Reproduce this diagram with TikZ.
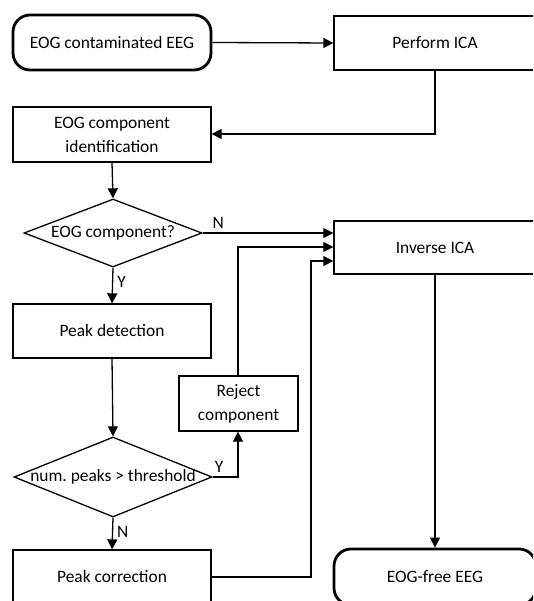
\documentclass[tikz,border=0pt]{standalone}
\usepackage{fontspec}
\setmainfont{Carlito}
\frenchspacing
\usetikzlibrary{shapes.geometric,arrows.meta}
\begin{document}
\begin{tikzpicture}[x=1pt,y=-1pt,
  every node/.style={font=\fontsize{17.4}{24}\selectfont},
  proc/.style={draw,line width=1.3pt,rectangle,minimum width=198pt,inner sep=0pt,align=center},
  term/.style={draw,line width=2.8pt,rectangle,rounded corners=17pt,minimum width=198pt,inner sep=0pt,align=center},
  dec/.style={draw,line width=1.3pt,diamond,inner sep=0pt},
  lab/.style={inner sep=0pt},
  conn/.style={line width=1.3pt,-{Triangle[length=10pt,width=10pt]}}
]
\useasboundingbox (0,0) rectangle (533,601);
\clip (0,0) rectangle (533,601);
\node[term,minimum height=55pt] (start) at (112,42.5) {EOG contaminated EEG};
\node[proc,minimum width=202pt,minimum height=54pt] (ica) at (435,43) {Perform ICA};
\node[proc,minimum height=55pt] (ident) at (112,134.5) {EOG component\\identification};
\node[dec,minimum width=178pt,minimum height=68pt] (d1) at (113,233) {\makebox[0pt]{EOG component?}};
\node[proc,minimum width=202pt,minimum height=53pt] (inv) at (435,247.5) {Inverse ICA};
\node[proc,minimum height=54pt] (peak) at (112,331) {Peak detection};
\node[proc,minimum width=119pt,minimum height=55pt] (rej) at (238.5,403.5) {Reject\\component};
\node[dec,minimum width=198pt,minimum height=80pt] (d2) at (113,477) {\makebox[0pt]{num. peaks > threshold}};
\node[proc,minimum height=54pt] (corr) at (112,577) {Peak correction};
\node[term,minimum width=202pt,minimum height=56pt] (free) at (435,577) {EOG-free EEG};
\coordinate (c1) at (435,134);
\coordinate (c2) at (238,247);
\coordinate (c3) at (311,577);
\coordinate (c4) at (311,261);
\coordinate (c5) at (238,477);
\draw[conn] (start.east) -- (ica.west);
\draw[conn] (ica.south) -- (c1) -- (ident.east |- c1);
\draw[conn] (ident.south) -- (d1.north);
\draw[conn] (d1.east) -- (inv.west |- d1.east) node[lab,pos=0.12,above=4pt] {N};
\draw[conn] (d1.south) -- (peak.north) node[lab,pos=0.4,right,xshift=4pt] {Y};
\draw[conn] (rej.north -| c2) -- (c2) -- (inv.west |- c2);
\draw[conn] (corr.east) -- (c3) -- (c4) -- (inv.west |- c4);
\draw[conn] (peak.south) -- (d2.north);
\draw[conn] (d2.east) -- (c5) -- (rej.south -| c5);
\node[lab] (ylab) at (219,467) {Y};
\draw[conn] (d2.south) -- (corr.north) node[lab,pos=0.45,right,xshift=4pt] {N};
\draw[conn] (inv.south) -- (free.north);
\end{tikzpicture}
\end{document}
